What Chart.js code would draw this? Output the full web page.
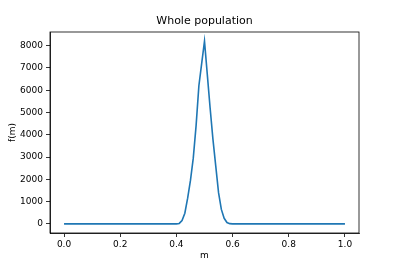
<!DOCTYPE html>
<html>
<head>
<meta charset="utf-8">
<script src="https://cdn.jsdelivr.net/npm/chart.js@4/dist/chart.umd.min.js"></script>
<style>
html,body{margin:0;padding:0;background:#fff;}
#wrap{width:399px;height:266px;position:relative;}
</style>
</head>
<body>
<div id="wrap"><canvas id="c" width="399" height="266"></canvas></div>
<script>
const titleText = "Whole population";
const xLabel = "m";
const yLabel = "f(m)";
const mValues = [
  0.00,0.01,0.02,0.03,0.04,0.05,0.06,0.07,0.08,0.09,
  0.10,0.11,0.12,0.13,0.14,0.15,0.16,0.17,0.18,0.19,
  0.20,0.21,0.22,0.23,0.24,0.25,0.26,0.27,0.28,0.29,
  0.30,0.31,0.32,0.33,0.34,0.35,0.36,0.37,0.38,0.39,
  0.40,0.41,0.42,0.43,0.44,0.45,0.46,0.47,0.48,0.49,
  0.50,0.51,0.52,0.53,0.54,0.55,0.56,0.57,0.58,0.59,
  0.60,0.61,0.62,0.63,0.64,0.65,0.66,0.67,0.68,0.69,
  0.70,0.71,0.72,0.73,0.74,0.75,0.76,0.77,0.78,0.79,
  0.80,0.81,0.82,0.83,0.84,0.85,0.86,0.87,0.88,0.89,
  0.90,0.91,0.92,0.93,0.94,0.95,0.96,0.97,0.98,0.99,
  1.00
];
const fValues = [
  0,0,0,0,0,0,0,0,0,0,
  0,0,0,0,0,0,0,0,0,0,
  0,0,0,0,0,0,0,0,0,0,
  0,0,0,0,0,0,0,0,0,0,
  0,20,150,480,1150,1950,2950,4400,6200,7200,
  8200,6700,5200,3800,2600,1400,650,250,60,10,
  0,0,0,0,0,0,0,0,0,0,
  0,0,0,0,0,0,0,0,0,0,
  0,0,0,0,0,0,0,0,0,0,
  0,0,0,0,0,0,0,0,0,0,
  0
];
const xTicks = [0, 0.2, 0.4, 0.6, 0.8, 1.0];
const yTicks = [0, 1000, 2000, 3000, 4000, 5000, 6000, 7000, 8000];

const points = mValues.map((m, i) => ({x: m, y: fValues[i]}));

const frame = {
  id: 'frame',
  afterDraw(chart) {
    const {ctx, chartArea: a} = chart;
    ctx.save();
    ctx.strokeStyle = '#000';
    ctx.lineWidth = 0.8;
    ctx.strokeRect(a.left, a.top, a.right - a.left, a.bottom - a.top);
    ctx.restore();
  }
};

Chart.defaults.color = '#000';
Chart.defaults.font.family = 'DejaVu Sans';

new Chart(document.getElementById('c'), {
  type: 'line',
  data: {
    datasets: [{
      data: points,
      borderColor: '#1f77b4',
      borderWidth: 1.6,
      pointRadius: 0,
      tension: 0,
      fill: false
    }]
  },
  options: {
    responsive: false,
    animation: false,
    devicePixelRatio: 1,
    layout: {padding: {left: 0, right: 40, top: 0, bottom: 0}},
    plugins: {
      legend: {display: false},
      tooltip: {enabled: false},
      title: {
        display: true,
        fullSize: false,
        text: titleText,
        font: {size: 11, weight: 'normal', family: 'DejaVu Sans'},
        color: '#000',
        padding: {top: 14.5, bottom: 4.3}
      }
    },
    scales: {
      x: {
        type: 'linear',
        min: -0.05,
        max: 1.05,
        afterBuildTicks(scale) { scale.ticks = xTicks.map(v => ({value: v})); },
        afterFit(scale) { scale.height = 33; },
        ticks: {
          font: {size: 9},
          padding: 2,
          maxRotation: 0,
          callback: v => v.toFixed(1)
        },
        grid: {drawOnChartArea: false, drawTicks: true, tickLength: 4, color: '#000', lineWidth: 0.8},
        border: {display: true, color: '#000', width: 0.8},
        title: {display: true, text: xLabel, font: {size: 9}, padding: {top: 0, bottom: 5}}
      },
      y: {
        type: 'linear',
        min: -410,
        max: 8610,
        afterBuildTicks(scale) { scale.ticks = yTicks.map(v => ({value: v})); },
        afterFit(scale) { scale.width = 50; },
        ticks: {
          font: {size: 9},
          padding: 3,
          callback: v => String(v)
        },
        grid: {drawOnChartArea: false, drawTicks: true, tickLength: 4, color: '#000', lineWidth: 0.8},
        border: {display: true, color: '#000', width: 0.8},
        title: {display: true, text: yLabel, font: {size: 9}, padding: {top: 7, bottom: 0}}
      }
    }
  },
  plugins: [frame]
});
</script>
</body>
</html>
